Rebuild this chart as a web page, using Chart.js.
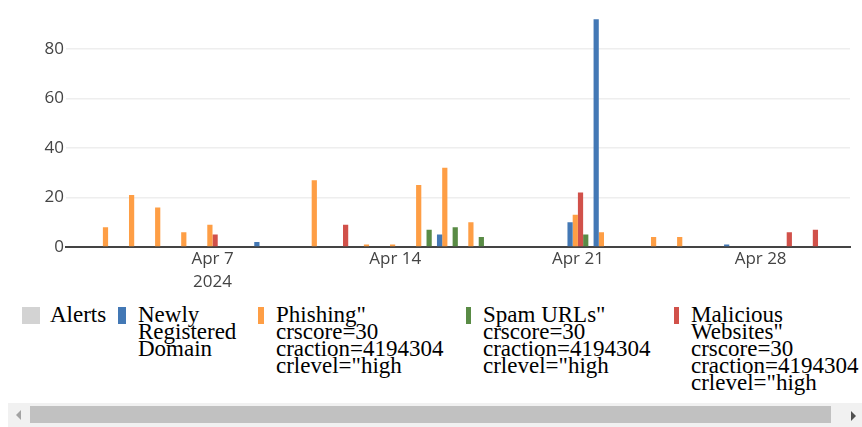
<!DOCTYPE html>
<html>
<head>
<meta charset="utf-8">
<title>Alerts</title>
<script src="https://cdn.jsdelivr.net/npm/chart.js@4.4.1/dist/chart.umd.min.js"></script>
<style>
  body { margin: 0; background: #fff; }
  #wrap { position: relative; width: 862px; height: 427px; overflow: hidden; }
  #chartBox { position: absolute; left: 0; top: 0; width: 862px; height: 300px; }
  #legend { position: absolute; left: 0; top: 305.5px; width: 862px;
            font-family: "Liberation Serif", "Times New Roman", serif;
            font-size: 23px; line-height: 17px; color: #000; }
  .item { position: absolute; top: 0; display: flex; align-items: flex-start; }
  .swatch { margin-top: 1.5px; height: 17px; flex: none; }
  .label { width: min-content; }
  #track { position: absolute; left: 8px; top: 403px; width: 854px; height: 24px; background: #f1f1f1; }
  #thumb { position: absolute; left: 22px; top: 3px; width: 801px; height: 17px; background: #c1c1c1; }
  #arrowL { position: absolute; left: 8px; top: 7px; width: 0; height: 0;
            border-top: 5px solid transparent; border-bottom: 5px solid transparent; border-right: 5px solid #a3a3a3; }
  #arrowR { position: absolute; left: 843px; top: 8px; width: 0; height: 0;
            border-top: 5px solid transparent; border-bottom: 5px solid transparent; border-left: 5px solid #505050; }
</style>
</head>
<body>
<div id="wrap">
  <div id="chartBox"><canvas id="alertsChart"></canvas></div>
  <div id="legend"></div>
  <div id="track"><div id="arrowL"></div><div id="thumb"></div><div id="arrowR"></div></div>
</div>
<script>
// data (April 2024, one bar per day and category)
const nrdDates = ['2024-04-09', '2024-04-16', '2024-04-21', '2024-04-22', '2024-04-27'];
const nrdValues = [2, 5, 10, 92, 1];

const phishingDates = ['2024-04-03', '2024-04-04', '2024-04-05', '2024-04-06', '2024-04-07',
    '2024-04-11', '2024-04-13', '2024-04-14', '2024-04-15', '2024-04-16', '2024-04-17',
    '2024-04-21', '2024-04-22', '2024-04-24', '2024-04-25'];
const phishingValues = [8, 21, 16, 6, 9, 27, 1, 1, 25, 32, 10, 13, 6, 4, 4];

const maliciousDates = ['2024-04-07', '2024-04-12', '2024-04-21', '2024-04-29', '2024-04-30'];
const maliciousValues = [5, 9, 22, 6, 7];

const spamDates = ['2024-04-15', '2024-04-16', '2024-04-17', '2024-04-21'];
const spamValues = [7, 8, 4, 5];

const seriesLabels = [
    'Newly Registered Domain',
    'Phishing" crscore=30 craction=4194304 crlevel="high',
    'Malicious Websites" crscore=30 craction=4194304 crlevel="high',
    'Spam URLs" crscore=30 craction=4194304 crlevel="high'
];
const alertsLabel = 'Alerts';

const tickDates = ['2024-04-07', '2024-04-14', '2024-04-21', '2024-04-28'];
const yTicks = [0, 20, 40, 60, 80];
const xRange = ['2024-04-01T09:17:00Z', '2024-05-01T10:12:00Z'];
const yMax = 96.84;

const monthNames = ['Jan', 'Feb', 'Mar', 'Apr', 'May', 'Jun', 'Jul', 'Aug', 'Sep', 'Oct', 'Nov', 'Dec'];

// styles
const colors = ['#4378b5', '#fe9e45', '#d1514a', '#598b45'];
const alertsColor = '#d3d3d3';

function toPoints(dates, values) {
    return dates.map((d, i) => ({ x: Date.parse(d), y: values[i] }));
}

const datasets = [
    { label: seriesLabels[0], data: toPoints(nrdDates, nrdValues), backgroundColor: colors[0] },
    { label: seriesLabels[1], data: toPoints(phishingDates, phishingValues), backgroundColor: colors[1] },
    { label: seriesLabels[2], data: toPoints(maliciousDates, maliciousValues), backgroundColor: colors[2] },
    { label: seriesLabels[3], data: toPoints(spamDates, spamValues), backgroundColor: colors[3] }
];

const tickFont = { family: '"Open Sans", sans-serif', size: 17, lineHeight: 1.32 };

const chart = new Chart(document.getElementById('alertsChart'), {
    type: 'bar',
    data: { datasets: datasets },
    options: {
        responsive: true,
        maintainAspectRatio: false,
        animation: false,
        layout: { padding: { top: 7.3, right: 12, left: 0, bottom: 0 } },
        datasets: { bar: { categoryPercentage: 0.8, barPercentage: 1.0 } },
        plugins: { legend: { display: false }, tooltip: { enabled: false } },
        scales: {
            x: {
                type: 'linear',
                offset: false,
                min: Date.parse(xRange[0]),
                max: Date.parse(xRange[1]),
                afterBuildTicks: (axis) => { axis.ticks = tickDates.map(d => ({ value: Date.parse(d) })); },
                afterFit: (axis) => {
                    axis.height = 53;
                    axis.paddingLeft = 0;
                    axis.paddingRight = 0;
                },
                grid: { display: false, drawTicks: false, offset: false },
                border: { display: true, color: '#444', width: 2 },
                ticks: {
                    color: '#444',
                    font: tickFont,
                    padding: 1,
                    maxRotation: 0,
                    autoSkip: false,
                    callback: function (value, index) {
                        const d = new Date(value);
                        const s = monthNames[d.getUTCMonth()] + ' ' + d.getUTCDate();
                        return index === 0 ? [s, String(d.getUTCFullYear())] : s;
                    }
                }
            },
            y: {
                min: 0,
                max: yMax,
                afterBuildTicks: (axis) => { axis.ticks = yTicks.map(v => ({ value: v })); },
                afterFit: (axis) => {
                    axis.width = 66;
                    axis.paddingTop = 0;
                    axis.paddingBottom = 0;
                },
                grid: {
                    drawTicks: false,
                    color: (ctx) => ctx.tick && ctx.tick.value === 0 ? 'rgba(0,0,0,0)' : '#eeeeee',
                    lineWidth: 1.5
                },
                border: { display: false },
                ticks: { color: '#444', font: tickFont, padding: 2 }
            }
        }
    }
});

// html legend, in the order it is shown on the original
const legendOrder = [0, 1, 3, 2];
const legendLeft = [22, 118, 258, 466, 674];
const swatchWidth = [18, 8, 6, 5, 5];
const swatchGap = [10, 12, 12, 12, 12];

function addLegendItem(text, color, slot) {
    const item = document.createElement('div');
    item.className = 'item';
    item.style.left = legendLeft[slot] + 'px';
    const sw = document.createElement('div');
    sw.className = 'swatch';
    sw.style.width = swatchWidth[slot] + 'px';
    sw.style.marginRight = swatchGap[slot] + 'px';
    sw.style.background = color;
    const lb = document.createElement('div');
    lb.className = 'label';
    lb.textContent = text;
    item.appendChild(sw);
    item.appendChild(lb);
    document.getElementById('legend').appendChild(item);
}

addLegendItem(alertsLabel, alertsColor, 0);
legendOrder.forEach((dsIndex, i) => {
    const ds = chart.data.datasets[dsIndex];
    addLegendItem(ds.label, ds.backgroundColor, i + 1);
});
</script>
</body>
</html>
